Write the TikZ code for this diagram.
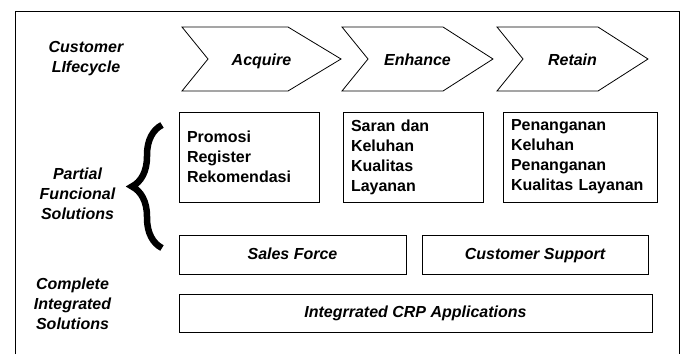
\documentclass[tikz,border=0pt]{standalone}
\usepackage{fontspec}
\setmainfont{Liberation Sans}
\usetikzlibrary{decorations.pathreplacing}
\newcommand{\lblfont}{\fontsize{16}{20}\selectfont\bfseries}
\tikzstyle{every node}=[font=\lblfont, inner sep=0, outer sep=0]
\tikzstyle{lbl}=[font=\lblfont\itshape, align=center]
\tikzstyle{chev}=[draw, line width=.8pt]
\tikzstyle{fbox}=[draw, line width=.8pt, align=left, inner xsep=8pt, minimum height=90pt]
\tikzstyle{sbox}=[draw, line width=.8pt, font=\lblfont\itshape, minimum height=38.5pt, text height=11.5pt, text depth=3.5pt]

\begin{document}
\begin{tikzpicture}[x=1pt,y=-1pt]
		\useasboundingbox (0,0) rectangle (686,354);
		% frame
		\draw[line width=.8pt] (15,354) -- (15,11) -- (679,11) -- (679,354);
		% row labels
		\node[lbl] (life) at (86,59) {Customer\\LIfecycle};
		\node[lbl] (part) at (77.5,194) {Partial\\Funcional\\Solutions};
		\node[lbl] (comp) at (72.5,304) {Complete\\Integrated\\Solutions};
		% lifecycle chevrons
		\foreach \l/\s/\r/\t/\n in {182/288/341/Acquire/acq, 342/443/493/Enhance/enh, 497/598/648/Retain/ret}{
			\draw[chev] (\l,27) -- (\s,27) -- (\r,59) -- (\s,91) -- (\l,91) -- (\l+26,59) -- cycle;
			\node[lbl, anchor=base] (\n) at ({(\l+\r)/2},65) {\t};
		}
		% partial solutions
		\node[fbox, text width=124pt] (f1) at (249,157) {Promosi\\Register\\Rekomendasi};
		\node[fbox, text width=124pt] (f2) at (413,157) {Saran dan\\Keluhan\\Kualitas\\Layanan};
		\node[fbox, text width=138pt] (f3) at (580,157) {Penanganan\\Keluhan\\Penanganan\\Kualitas Layanan};
		\coordinate (btop) at (162,125);
		\coordinate (bbot) at (162,248);
		\draw[line width=6.5pt, decorate, decoration={brace, amplitude=30pt}] (bbot) -- (btop);
		\node[sbox, minimum width=227pt] (sales) at (292.5,255) {Sales Force};
		\node[sbox, minimum width=226pt] (support) at (535,255) {Customer Support};
		% complete solutions
		\node[sbox, minimum width=473pt] (crp) at (415.5,313.5) {Integrrated CRP Applications};
	\end{tikzpicture}
\end{document}
